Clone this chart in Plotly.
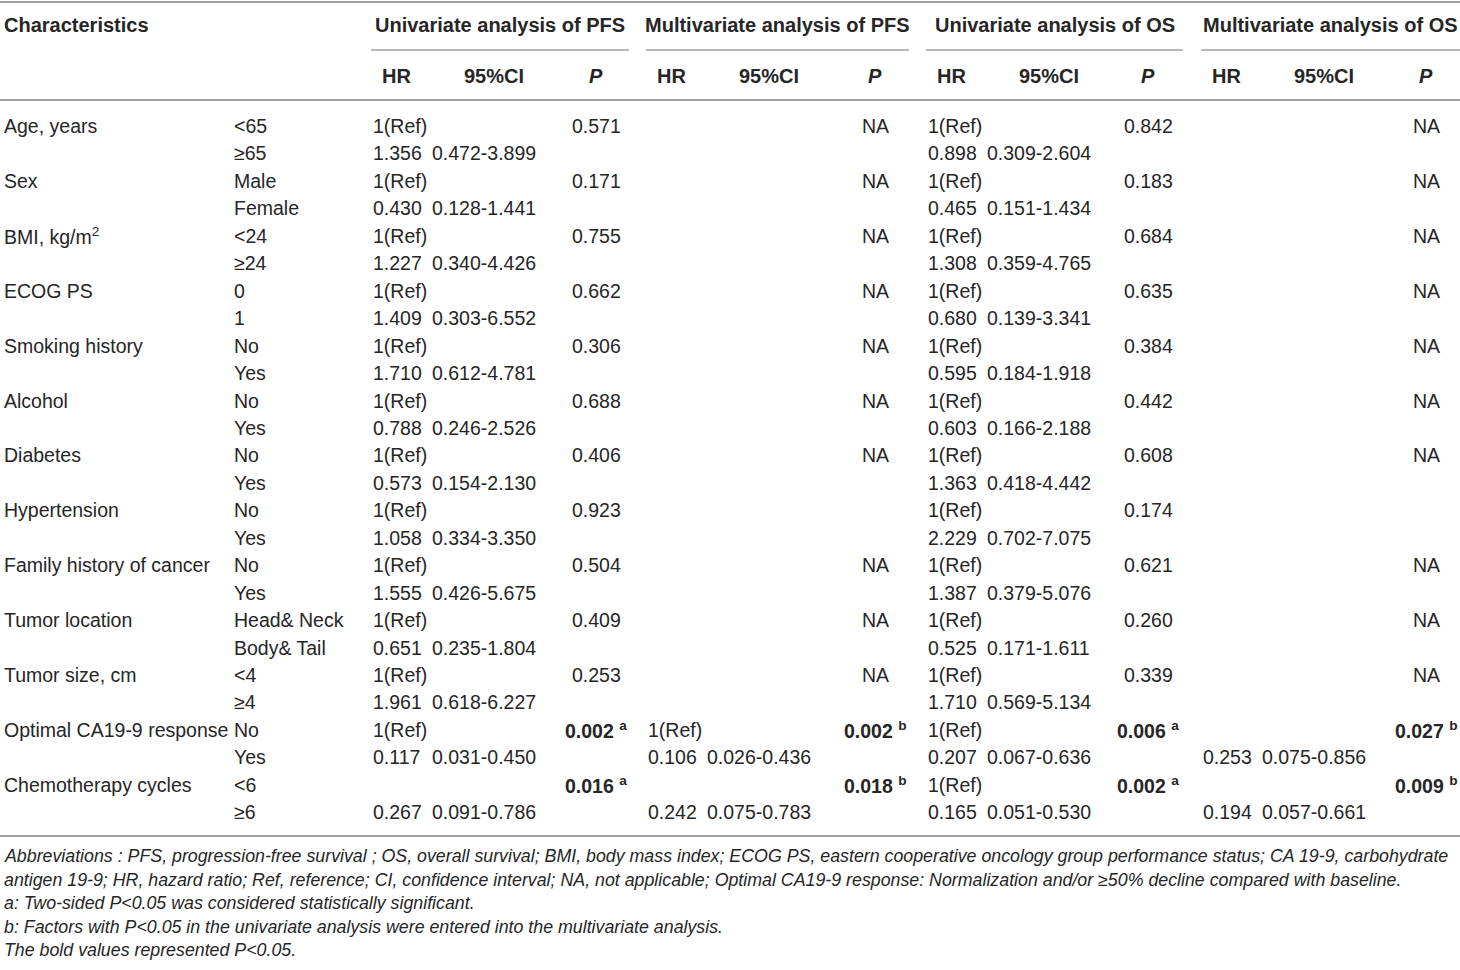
import plotly.graph_objects as go

# table content
characteristics = ["Age, years", "Sex", "BMI, kg/m<sup>2</sup>", "ECOG PS", "Smoking history",
                   "Alcohol", "Diabetes", "Hypertension", "Family history of cancer",
                   "Tumor location", "Tumor size, cm", "Optimal CA19-9 response",
                   "Chemotherapy cycles"]
levels_1 = ["<65", "Male", "<24", "0", "No", "No", "No", "No", "No", "Head& Neck", "<4", "No", "<6"]
levels_2 = ["≥65", "Female", "≥24", "1", "Yes", "Yes", "Yes", "Yes", "Yes", "Body& Tail", "≥4", "Yes", "≥6"]

groups = ["Univariate analysis of PFS", "Multivariate analysis of PFS",
          "Univariate analysis of OS", "Multivariate analysis of OS"]
sub_headers = ["HR", "95%CI", "<i>P</i>"]

# univariate PFS
uni_pfs_ref = ["1(Ref)"] * 12 + [""]
uni_pfs_hr = ["1.356", "0.430", "1.227", "1.409", "1.710", "0.788", "0.573", "1.058", "1.555",
              "0.651", "1.961", "0.117", "0.267"]
uni_pfs_ci = ["0.472-3.899", "0.128-1.441", "0.340-4.426", "0.303-6.552", "0.612-4.781",
              "0.246-2.526", "0.154-2.130", "0.334-3.350", "0.426-5.675", "0.235-1.804",
              "0.618-6.227", "0.031-0.450", "0.091-0.786"]
uni_pfs_p = ["0.571", "0.171", "0.755", "0.662", "0.306", "0.688", "0.406", "0.923", "0.504",
             "0.409", "0.253", "0.002", "0.016"]
uni_pfs_note = [""] * 11 + ["a", "a"]

# multivariate PFS
multi_pfs_ref = [""] * 11 + ["1(Ref)", ""]
multi_pfs_hr = [""] * 11 + ["0.106", "0.242"]
multi_pfs_ci = [""] * 11 + ["0.026-0.436", "0.075-0.783"]
multi_pfs_p = ["NA"] * 7 + [""] + ["NA"] * 3 + ["0.002", "0.018"]
multi_pfs_note = [""] * 11 + ["b", "b"]

# univariate OS
uni_os_ref = ["1(Ref)"] * 13
uni_os_hr = ["0.898", "0.465", "1.308", "0.680", "0.595", "0.603", "1.363", "2.229", "1.387",
             "0.525", "1.710", "0.207", "0.165"]
uni_os_ci = ["0.309-2.604", "0.151-1.434", "0.359-4.765", "0.139-3.341", "0.184-1.918",
             "0.166-2.188", "0.418-4.442", "0.702-7.075", "0.379-5.076", "0.171-1.611",
             "0.569-5.134", "0.067-0.636", "0.051-0.530"]
uni_os_p = ["0.842", "0.183", "0.684", "0.635", "0.384", "0.442", "0.608", "0.174", "0.621",
            "0.260", "0.339", "0.006", "0.002"]
uni_os_note = [""] * 11 + ["a", "a"]

# multivariate OS
multi_os_ref = [""] * 13
multi_os_hr = [""] * 11 + ["0.253", "0.194"]
multi_os_ci = [""] * 11 + ["0.075-0.856", "0.057-0.661"]
multi_os_p = ["NA"] * 7 + [""] + ["NA"] * 3 + ["0.027", "0.009"]
multi_os_note = [""] * 11 + ["b", "b"]

footnotes = [
    "Abbreviations : PFS, progression-free survival ; OS, overall survival; BMI, body mass index; ECOG PS, eastern cooperative oncology group performance status; CA 19-9, carbohydrate",
    "antigen 19-9; HR, hazard ratio; Ref, reference; CI, confidence interval; NA, not applicable; Optimal CA19-9 response: Normalization and/or ≥50% decline compared with baseline.",
    "a: Two-sided P<0.05 was considered statistically significant.",
    "b: Factors with P<0.05 in the univariate analysis were entered into the multivariate analysis.",
    "The bold values represented P<0.05.",
]

analyses = [
    (uni_pfs_ref, uni_pfs_hr, uni_pfs_ci, uni_pfs_p, uni_pfs_note),
    (multi_pfs_ref, multi_pfs_hr, multi_pfs_ci, multi_pfs_p, multi_pfs_note),
    (uni_os_ref, uni_os_hr, uni_os_ci, uni_os_p, uni_os_note),
    (multi_os_ref, multi_os_hr, multi_os_ci, multi_os_p, multi_os_note),
]

# layout (pixels)
W, H = 1460, 970
FONT = "Liberation Sans"
TXT = "#262626"
LINE = "#a0a0a0"
FS = 19.5        # body
FS_HDR = 20      # bold headers
FS_FOOT = 17.8   # italic notes
group_x = [371, 646, 926, 1201]      # left of each group block
group_w = [258, 263, 257, 259]
hr_off, ci_off = 0, 59
hdr_hr_off, hdr_ci_off = 25, 123
p_center = [596, 875, 1148, 1426]
row0, row_h = 126, 27.45
x_char, x_level = 2, 232
y_hdr1, y_hdr2 = 25, 76
foot_y0, foot_h = 856, 23.6

fig = go.Figure()
ann = []


def txt(x, y, s, anchor="left", size=FS, color=TXT):
    ann.append(dict(x=x, y=y, xref="x", yref="y", text=s, showarrow=False,
                    xanchor=anchor, yanchor="middle",
                    font=dict(family=FONT, size=size, color=color)))


# header
txt(x_char, y_hdr1, "<b>Characteristics</b>", size=FS_HDR)
for g, name in enumerate(groups):
    txt(group_x[g] + group_w[g] / 2, y_hdr1, "<b>" + name + "</b>", anchor="center", size=FS_HDR)
    txt(group_x[g] + hdr_hr_off, y_hdr2, "<b>" + sub_headers[0] + "</b>", anchor="center", size=FS_HDR)
    txt(group_x[g] + hdr_ci_off, y_hdr2, "<b>" + sub_headers[1] + "</b>", anchor="center", size=FS_HDR)
    txt(p_center[g], y_hdr2, "<b>" + sub_headers[2] + "</b>", anchor="center", size=FS_HDR)

# body
for i, name in enumerate(characteristics):
    ya = row0 + (2 * i) * row_h
    yb = row0 + (2 * i + 1) * row_h
    txt(x_char, ya, name)
    txt(x_level, ya, levels_1[i])
    txt(x_level, yb, levels_2[i])
    for g, (ref, hr, ci, p, note) in enumerate(analyses):
        if ref[i]:
            txt(group_x[g] + hr_off, ya, ref[i])
        if hr[i]:
            txt(group_x[g] + hr_off, yb, hr[i])
        if ci[i]:
            txt(group_x[g] + ci_off, yb, ci[i])
        if p[i]:
            s = p[i]
            if note[i]:
                s = "<b>" + s + " <sup>" + note[i] + "</sup></b>"
            txt(p_center[g], ya, s, anchor="center")

# footnotes
for k, line in enumerate(footnotes):
    txt(2, foot_y0 + k * foot_h, "<i>" + line + "</i>", size=FS_FOOT)

shapes = [
    dict(type="line", x0=0, x1=W, y0=2, y1=2, line=dict(color=LINE, width=2)),
    dict(type="line", x0=0, x1=W, y0=100, y1=100, line=dict(color=LINE, width=2)),
    dict(type="line", x0=0, x1=W, y0=836, y1=836, line=dict(color=LINE, width=2)),
]
for g in range(4):
    shapes.append(dict(type="line", x0=group_x[g], x1=group_x[g] + group_w[g], y0=50, y1=50,
                       line=dict(color=LINE, width=1.5)))
for s in shapes:
    s.update(xref="x", yref="y")

fig.update_layout(
    width=W, height=H,
    margin=dict(l=0, r=0, t=0, b=0),
    paper_bgcolor="white", plot_bgcolor="white",
    xaxis=dict(range=[0, W], visible=False, fixedrange=True),
    yaxis=dict(range=[H, 0], visible=False, fixedrange=True),
    annotations=ann,
    shapes=shapes,
    showlegend=False,
)
# page body has a default 8px margin; drop it so the table fills the window
fig.write_html("out.html", config={"displayModeBar": False},
               post_script="document.body.style.margin='0px';")
